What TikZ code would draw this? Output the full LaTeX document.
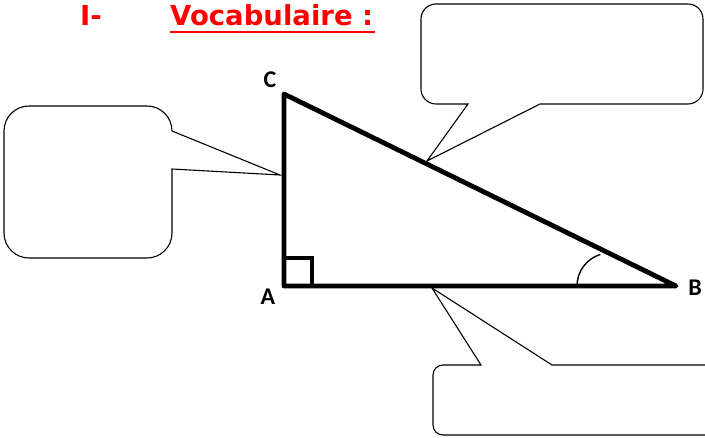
\documentclass[tikz,border=0pt]{standalone}
\usepackage{fontspec}
\newfontfamily\labelfont{Carlito}
\newfontfamily\titlefont{DejaVu Sans}
\definecolor{titlered}{RGB}{255,0,0}
\begin{document}
\begin{tikzpicture}[x=1pt,y=1pt,
  tri/.style={line width=4.8pt,line join=round,line cap=round},
  callout/.style={line width=1.1pt,fill=white,line join=miter},
  vlabel/.style={font=\labelfont\bfseries\fontsize{24}{28}\selectfont,inner sep=0pt},
  titletext/.style={font=\titlefont\bfseries\fontsize{27.5}{32}\selectfont,text=titlered,inner sep=0pt}]
\useasboundingbox (0,0) rectangle (705,437);
% triangle vertices
\coordinate (A) at (284,151);
\coordinate (B) at (676,151);
\coordinate (C) at (284,343);
% callout tips
\coordinate (tipL) at (280,262);
\coordinate (tipT) at (427,276);
\coordinate (tipB) at (432,149);
% left callout
\draw[callout] (29,331) -- (147,331) arc (90:0:25pt) -- (tipL) -- (172,268) -- (172,204)
  arc (0:-90:25pt) -- (29,179) arc (270:180:25pt) -- (4,306) arc (180:90:25pt) -- cycle;
% top right callout
\draw[callout] (436,433) -- (688,433) arc (90:0:15pt) -- (703,348) arc (0:-90:15pt)
  -- (540,333) -- (tipT) -- (468,333) -- (436,333) arc (270:180:15pt) -- (421,418)
  arc (180:90:15pt) -- cycle;
% bottom callout
\fill[white] (433,2) rectangle (712,72);
\draw[callout] (712,72) -- (552,72) -- (tipB) -- (481,72) -- (443,72) arc (90:180:10pt)
  -- (433,12) arc (180:270:10pt) -- (712,2);
% triangle
\draw[tri] (A) -- (B) -- (C) -- cycle;
\draw[line width=3.8pt] (A) ++(0,28) -- ++(28,0) -- ++(0,-28);
\draw[line width=1.4pt] (577,151) arc (180:107:33pt);
% labels
\node[vlabel] (lA) at (268,140) {A};
\node[vlabel] (lB) at (695,149) {B};
\node[vlabel] (lC) at (270,357) {C};
% title
\node[titletext,anchor=base] (t1) at (91,411) {I-};
\node[titletext,anchor=base west] (t2) at (170,411) {Vocabulaire :};
\draw[titlered,line width=2.5pt] (170,405) -- (375,405);
\end{tikzpicture}
\end{document}
